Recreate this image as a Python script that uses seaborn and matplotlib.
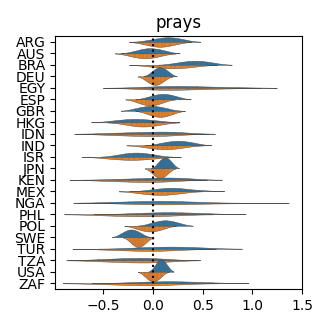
import matplotlib
matplotlib.use("Agg")
import matplotlib.pyplot as plt
import seaborn as sns
import pandas as pd

countries = ["ARG", "AUS", "BRA", "DEU", "EGY", "ESP", "GBR", "HKG", "IDN", "IND", "ISR",
             "JPN", "KEN", "MEX", "NGA", "PHL", "POL", "SWE", "TUR", "TZA", "USA", "ZAF"]
groups = ["group 1", "group 2"]

# observations per country, first group (blue, top half)
blue = {
    "ARG": [-0.05, 0.04, 0.09, 0.13, 0.16, 0.21, 0.25, 0.32],
    "AUS": [-0.19, -0.12, -0.08, -0.05, -0.01, 0.02, 0.07, 0.13],
    "BRA": [0.22, 0.30, 0.36, 0.40, 0.44, 0.49, 0.54, 0.62],
    "DEU": [-0.02, 0.016, 0.04, 0.061, 0.079, 0.10, 0.124, 0.16],
    "EGY": [-0.08, 0.05, 0.15, 0.24, 0.33, 0.44, 0.58, 0.85],
    "ESP": [-0.05, 0.01, 0.05, 0.085, 0.115, 0.15, 0.19, 0.25],
    "GBR": [-0.185, -0.12, -0.075, -0.035, 0.0, 0.035, 0.08, 0.145],
    "HKG": [-0.42, -0.32, -0.26, -0.205, -0.155, -0.10, -0.035, 0.06],
    "IDN": [-0.45, -0.27, -0.14, -0.03, 0.06, 0.14, 0.22, 0.29],
    "IND": [0.07, 0.14, 0.19, 0.23, 0.27, 0.31, 0.36, 0.43],
    "ISR": [-0.365, -0.285, -0.235, -0.19, -0.15, -0.105, -0.05, 0.025],
    "JPN": [0.045, 0.075, 0.095, 0.112, 0.128, 0.145, 0.165, 0.195],
    "KEN": [-0.40, -0.20, -0.06, 0.04, 0.12, 0.19, 0.27, 0.36],
    "MEX": [-0.025, 0.065, 0.125, 0.18, 0.22, 0.275, 0.335, 0.50],
    "NGA": [-0.42, -0.24, -0.10, 0.0, 0.09, 0.18, 0.30, 0.48],
    "PHL": [-0.25, -0.08, 0.03, 0.12, 0.20, 0.29, 0.40, 0.58],
    "POL": [-0.03, 0.03, 0.07, 0.105, 0.135, 0.17, 0.21, 0.27],
    "SWE": [-0.325, -0.283, -0.255, -0.23, -0.21, -0.185, -0.157, -0.115],
    "TUR": [-0.22, -0.07, 0.04, 0.13, 0.21, 0.30, 0.40, 0.56],
    "TZA": [-0.55, -0.40, -0.29, -0.21, -0.13, -0.05, 0.03, 0.14],
    "USA": [0.012, 0.04, 0.058, 0.073, 0.087, 0.103, 0.12, 0.148],
    "ZAF": [-0.26, -0.09, 0.03, 0.12, 0.20, 0.29, 0.40, 0.60],
}

# observations per country, second group (orange, bottom half)
orange = {
    "ARG": [-0.10, -0.03, 0.02, 0.05, 0.09, 0.12, 0.17, 0.24],
    "AUS": [-0.245, -0.18, -0.135, -0.10, -0.06, -0.025, 0.02, 0.085],
    "BRA": [-0.04, 0.06, 0.12, 0.18, 0.22, 0.28, 0.34, 0.44],
    "DEU": [-0.075, -0.037, -0.012, 0.011, 0.029, 0.052, 0.077, 0.115],
    "EGY": [-0.14, -0.02, 0.08, 0.16, 0.25, 0.35, 0.48, 0.72],
    "ESP": [-0.165, -0.11, -0.075, -0.045, -0.015, 0.015, 0.05, 0.105],
    "GBR": [-0.065, -0.01, 0.025, 0.055, 0.085, 0.115, 0.15, 0.205],
    "HKG": [-0.295, -0.215, -0.165, -0.12, -0.08, -0.035, 0.015, 0.095],
    "IDN": [-0.48, -0.32, -0.20, -0.11, -0.03, 0.05, 0.13, 0.24],
    "IND": [-0.09, -0.005, 0.05, 0.10, 0.14, 0.19, 0.245, 0.33],
    "ISR": [-0.49, -0.38, -0.31, -0.245, -0.195, -0.13, -0.06, 0.05],
    "JPN": [-0.014, 0.02, 0.042, 0.062, 0.078, 0.098, 0.12, 0.154],
    "KEN": [-0.52, -0.36, -0.24, -0.14, -0.06, 0.02, 0.10, 0.22],
    "MEX": [-0.155, -0.065, -0.005, 0.05, 0.09, 0.145, 0.205, 0.295],
    "NGA": [-0.28, -0.12, 0.0, 0.10, 0.20, 0.32, 0.50, 0.88],
    "PHL": [-0.55, -0.38, -0.26, -0.16, -0.08, 0.01, 0.11, 0.26],
    "POL": [-0.17, -0.115, -0.08, -0.045, -0.015, 0.02, 0.055, 0.11],
    "SWE": [-0.233, -0.20, -0.178, -0.158, -0.142, -0.122, -0.10, -0.067],
    "TUR": [-0.48, -0.31, -0.19, -0.10, -0.02, 0.06, 0.15, 0.30],
    "TZA": [-0.56, -0.40, -0.28, -0.19, -0.11, -0.03, 0.05, 0.16],
    "USA": [-0.083, -0.05, -0.028, -0.008, 0.008, 0.028, 0.05, 0.083],
    "ZAF": [-0.55, -0.36, -0.23, -0.13, -0.05, 0.04, 0.14, 0.30],
}

rows = []
for c in countries:
    for v in blue[c]:
        rows.append((c, groups[0], v))
    for v in orange[c]:
        rows.append((c, groups[1], v))
df = pd.DataFrame(rows, columns=["country", "group", "value"])

fig = plt.figure(figsize=(3.28, 3.28), dpi=100)
ax = fig.add_axes([0.168, 0.119, 0.753, 0.771])
sns.violinplot(data=df, x="value", y="country", hue="group", order=countries,
               hue_order=groups, split=True, inner="stick", palette="tab10",
               width=2.1, density_norm="area", common_norm=True,
               linewidth=0.35, linecolor="0.3", legend=False, ax=ax)
ax.axvline(0, color="black", linestyle=":", linewidth=1.5, zorder=5)
ax.set_xlim(-0.987, 1.5)
ax.set_ylim(21.5, -0.5)
ax.set_xticks([-0.5, 0.0, 0.5, 1.0, 1.5])
ax.set_xlabel("")
ax.set_ylabel("")
ax.set_title("prays")
fig.savefig("out.png", dpi=100)
